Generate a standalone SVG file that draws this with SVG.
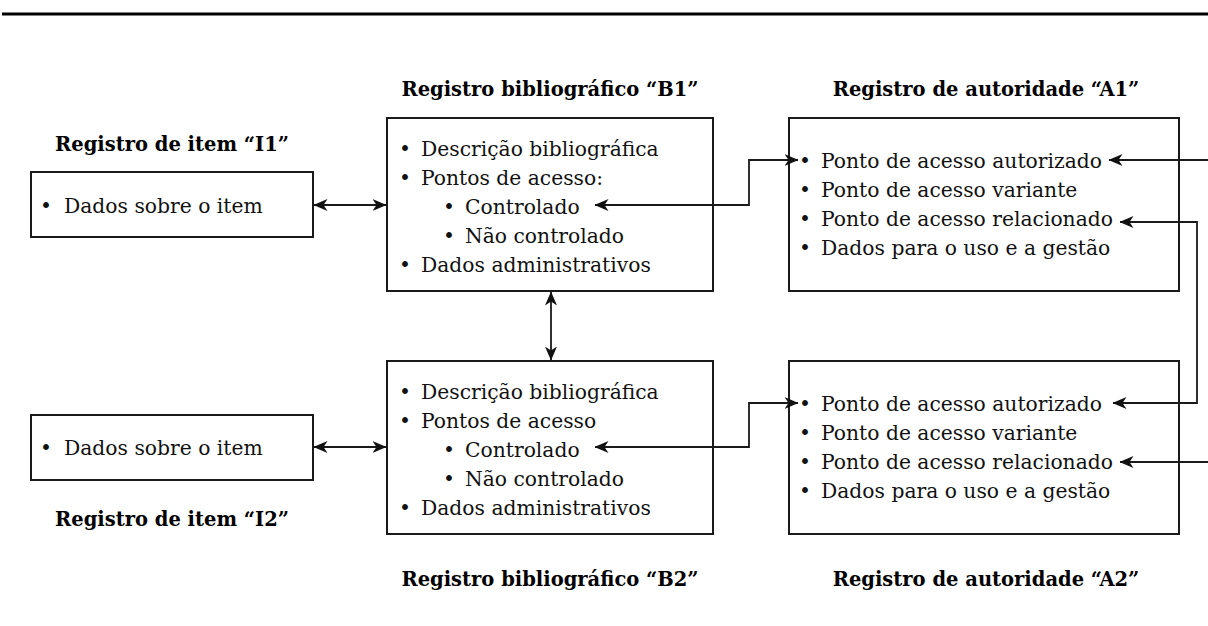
<svg xmlns="http://www.w3.org/2000/svg" width="1208" height="626" viewBox="0 0 1208 626">
  <style>
    .box { fill: #fff; stroke: #1a1a1a; stroke-width: 2; }
    .t { font-family: "DejaVu Serif", "Liberation Serif", serif; font-size: 20.3px; fill: #111; }
    .h { font-family: "DejaVu Serif", "Liberation Serif", serif; font-size: 19.5px; font-weight: bold; fill: #000; text-anchor: middle; }
    .c { fill: none; stroke: #1a1a1a; stroke-width: 1.8; }
  </style>
  <defs>
    <marker id="ah" viewBox="0 0 14 14" refX="13.5" refY="7" markerWidth="14" markerHeight="14" markerUnits="userSpaceOnUse" orient="auto-start-reverse">
      <path d="M0,1 L14,7 L0,13 L4,7 Z" fill="#111"/>
    </marker>
  </defs>
  <rect x="0" y="0" width="1208" height="626" fill="#fff"/>
  <line x1="2" y1="14" x2="1208" y2="14" stroke="#000" stroke-width="3"/>

  <g id="I1">
    <text class="h" x="172" y="151">Registro de item “I1”</text>
    <rect class="box" x="31" y="172" width="282" height="65"/>
    <text class="t" x="40" y="213">•</text>
    <text class="t" x="64" y="213">Dados sobre o item</text>
  </g>

  <g id="I2">
    <rect class="box" x="31" y="415" width="282" height="65"/>
    <text class="t" x="40" y="455">•</text>
    <text class="t" x="64" y="455">Dados sobre o item</text>
    <text class="h" x="172" y="526">Registro de item “I2”</text>
  </g>

  <g id="B1">
    <text class="h" x="550" y="96">Registro bibliográfico “B1”</text>
    <rect class="box" x="387" y="118" width="326" height="173"/>
    <text class="t" x="399" y="156">•</text>
    <text class="t" x="421" y="156">Descrição bibliográfica</text>
    <text class="t" x="399" y="185">•</text>
    <text class="t" x="421" y="185">Pontos de acesso:</text>
    <text class="t" x="443" y="214">•</text>
    <text class="t" x="465" y="214">Controlado</text>
    <text class="t" x="443" y="243">•</text>
    <text class="t" x="465" y="243">Não controlado</text>
    <text class="t" x="399" y="272">•</text>
    <text class="t" x="421" y="272">Dados administrativos</text>
  </g>

  <g id="B2">
    <rect class="box" x="387" y="361" width="326" height="173"/>
    <text class="t" x="399" y="399">•</text>
    <text class="t" x="421" y="399">Descrição bibliográfica</text>
    <text class="t" x="399" y="428">•</text>
    <text class="t" x="421" y="428">Pontos de acesso</text>
    <text class="t" x="443" y="457">•</text>
    <text class="t" x="465" y="457">Controlado</text>
    <text class="t" x="443" y="486">•</text>
    <text class="t" x="465" y="486">Não controlado</text>
    <text class="t" x="399" y="515">•</text>
    <text class="t" x="421" y="515">Dados administrativos</text>
    <text class="h" x="550" y="586">Registro bibliográfico “B2”</text>
  </g>

  <g id="A1">
    <text class="h" x="986" y="96">Registro de autoridade “A1”</text>
    <rect class="box" x="789" y="118" width="390" height="173"/>
    <text class="t" x="799" y="168">•</text>
    <text class="t" x="821" y="168">Ponto de acesso autorizado</text>
    <text class="t" x="799" y="197">•</text>
    <text class="t" x="821" y="197">Ponto de acesso variante</text>
    <text class="t" x="799" y="226">•</text>
    <text class="t" x="821" y="226">Ponto de acesso relacionado</text>
    <text class="t" x="799" y="255">•</text>
    <text class="t" x="821" y="255">Dados para o uso e a gestão</text>
  </g>

  <g id="A2">
    <rect class="box" x="789" y="361" width="390" height="173"/>
    <text class="t" x="799" y="411">•</text>
    <text class="t" x="821" y="411">Ponto de acesso autorizado</text>
    <text class="t" x="799" y="440">•</text>
    <text class="t" x="821" y="440">Ponto de acesso variante</text>
    <text class="t" x="799" y="469">•</text>
    <text class="t" x="821" y="469">Ponto de acesso relacionado</text>
    <text class="t" x="799" y="498">•</text>
    <text class="t" x="821" y="498">Dados para o uso e a gestão</text>
    <text class="h" x="986" y="586">Registro de autoridade “A2”</text>
  </g>

  <g id="connectors">
    <line class="c" x1="314" y1="205" x2="386" y2="205" marker-start="url(#ah)" marker-end="url(#ah)"/>
    <line class="c" x1="314" y1="447" x2="386" y2="447" marker-start="url(#ah)" marker-end="url(#ah)"/>
    <line class="c" x1="551" y1="292" x2="551" y2="360" marker-start="url(#ah)" marker-end="url(#ah)"/>
    <path class="c" d="M595,205 H749 V160 H798" marker-start="url(#ah)" marker-end="url(#ah)"/>
    <path class="c" d="M595,447 H749 V403 H798" marker-start="url(#ah)" marker-end="url(#ah)"/>
    <path class="c" d="M1208,160 H1109" marker-end="url(#ah)"/>
    <path class="c" d="M1120,222 H1197 V403 H1113" marker-start="url(#ah)" marker-end="url(#ah)"/>
    <path class="c" d="M1208,462 H1120" marker-end="url(#ah)"/>
  </g>
</svg>
